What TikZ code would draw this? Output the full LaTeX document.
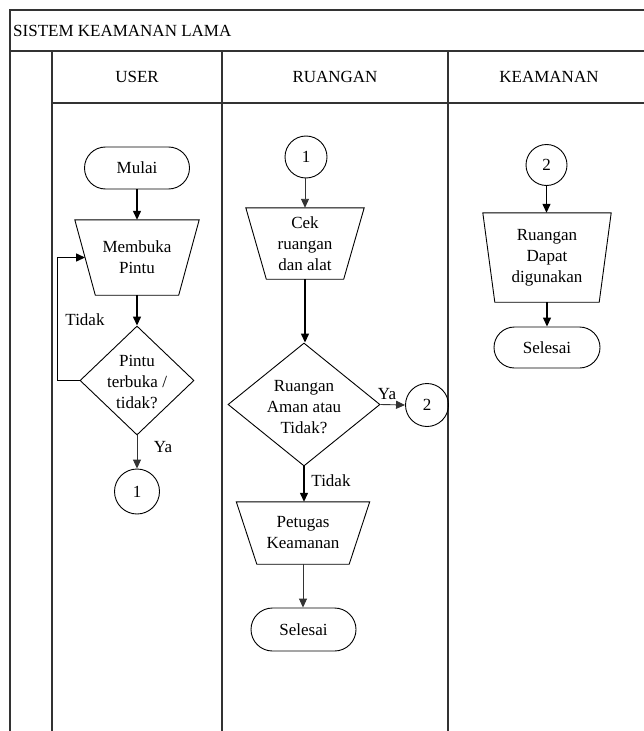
\documentclass[tikz,border=0pt]{standalone}
\usepackage{fontspec}
\setmainfont{Liberation Serif}
\usetikzlibrary{shapes.geometric,shapes.misc,arrows.meta}
\begin{document}
\begin{tikzpicture}[x=1bp,y=-1bp,
  every node/.style={font=\fontsize{17bp}{21bp}\selectfont},
  frame/.style={draw=black!80, line width=1.4bp},
  shp/.style={draw=black, line width=0.9bp},
  term/.style={rounded rectangle, draw=black, line width=0.9bp, minimum width=105bp, minimum height=42bp, inner sep=0},
  conn/.style={circle, draw=black, line width=0.9bp, minimum size=43bp, inner sep=0},
  proc/.style={rectangle, inner sep=0, align=center},
  dec/.style={diamond, draw=black, line width=0.9bp, inner sep=0},
  txt/.style={align=center, inner sep=0},
  flow/.style={draw=black, line width=1.3bp, -{Triangle[length=9bp,width=8bp]}},
  thinflow/.style={flow, draw=black!80, line width=0.9bp}
]
\useasboundingbox (0,0) rectangle (644,731);
% frame
\draw[frame] (644,10) -- (10,10) -- (10,731);
\draw[frame] (10,51) -- (644,51);
\draw[frame] (52,51) -- (52,731);
\draw[frame] (222,51) -- (222,731);
\draw[frame] (448,51) -- (448,731);
\draw[frame] (52,103) -- (644,103);
\node[anchor=west, inner sep=0] (title) at (13,31) {SISTEM KEAMANAN LAMA};
\node[txt] (hUser) at (137,77) {USER};
\node[txt] (hRuang) at (335,77) {RUANGAN};
\node[txt] (hKeam) at (549,77) {KEAMANAN};

% USER lane
\node[term] (mulai) at (137,168) {Mulai};
\node[proc, minimum width=124bp, minimum height=75bp] (buka) at (137,257.5) {Membuka\\Pintu};
\draw[shp] (buka.north west) -- (buka.north east) -- ([xshift=-20.5bp]buka.south east) -- ([xshift=20.5bp]buka.south west) -- cycle;
\node[dec, minimum width=114bp, minimum height=109bp] (d1) at (137,380.5) {};
\node[txt] (d1t) at (137,382) {Pintu\\terbuka /\\tidak?};
\node[conn, minimum size=45bp] (c1) at (137,491.5) {1};
\node[txt] (lTidak1) at (85,320) {Tidak};
\node[txt] (lYa1) at (163,447) {Ya};
\draw[flow] (mulai.south) -- (mulai.south |- buka.north);
\draw[flow] (buka.south) -- (buka.south |- d1.north);
\draw[thinflow] (d1.south) -- (d1.south |- c1.north);
\draw[flow] (d1.west) -- ++(-22,0) |- ([xshift=10.25bp]buka.west);

% RUANGAN lane
\node[conn, minimum size=42bp] (c1b) at (306,157) {1};
\node[proc, minimum width=118bp, minimum height=71bp] (cek) at (305,243.5) {Cek\\ruangan\\dan alat};
\draw[shp] (cek.north west) -- (cek.north east) -- ([xshift=-20.5bp]cek.south east) -- ([xshift=20.5bp]cek.south west) -- cycle;
\node[dec, minimum width=152bp, minimum height=123bp] (d2) at (304,404.5) {};
\node[txt] (d2t) at (304,407) {Ruangan\\Aman atau\\Tidak?};
\node[conn, minimum size=43bp] (c2) at (427,405) {2};
\node[txt] (lYa2) at (387,394) {Ya};
\node[txt] (lTidak2) at (331,481) {Tidak};
\node[proc, minimum width=133bp, minimum height=62bp] (pet) at (303,533) {Petugas\\Keamanan};
\draw[shp] (pet.north west) -- (pet.north east) -- ([xshift=-20.5bp]pet.south east) -- ([xshift=20.5bp]pet.south west) -- cycle;
\node[term, minimum width=105bp, minimum height=43bp] (sel1) at (303.5,629.5) {Selesai};
\draw[thinflow] (c1b.south -| cek.north) -- (cek.north);
\draw[flow] (cek.south) -- (cek.south |- d2.north);
\draw[thinflow] (d2.east) -- (c2.west);
\draw[flow] (d2.south) -- (d2.south |- pet.north);
\draw[thinflow] (pet.south) -- (pet.south |- sel1.north);

% KEAMANAN lane
\node[conn, minimum size=41bp] (c2b) at (546.5,165) {2};
\node[proc, minimum width=128bp, minimum height=89bp] (dapat) at (547,257.5) {Ruangan\\Dapat\\digunakan};
\draw[shp] (dapat.north west) -- (dapat.north east) -- ([xshift=-12bp]dapat.south east) -- ([xshift=12bp]dapat.south west) -- cycle;
\node[term, minimum width=106bp, minimum height=41bp] (sel2) at (547,347.5) {Selesai};
\draw[flow] (c2b.south) -- (c2b.south |- dapat.north);
\draw[flow] (dapat.south) -- (dapat.south |- sel2.north);
\end{tikzpicture}
\end{document}
